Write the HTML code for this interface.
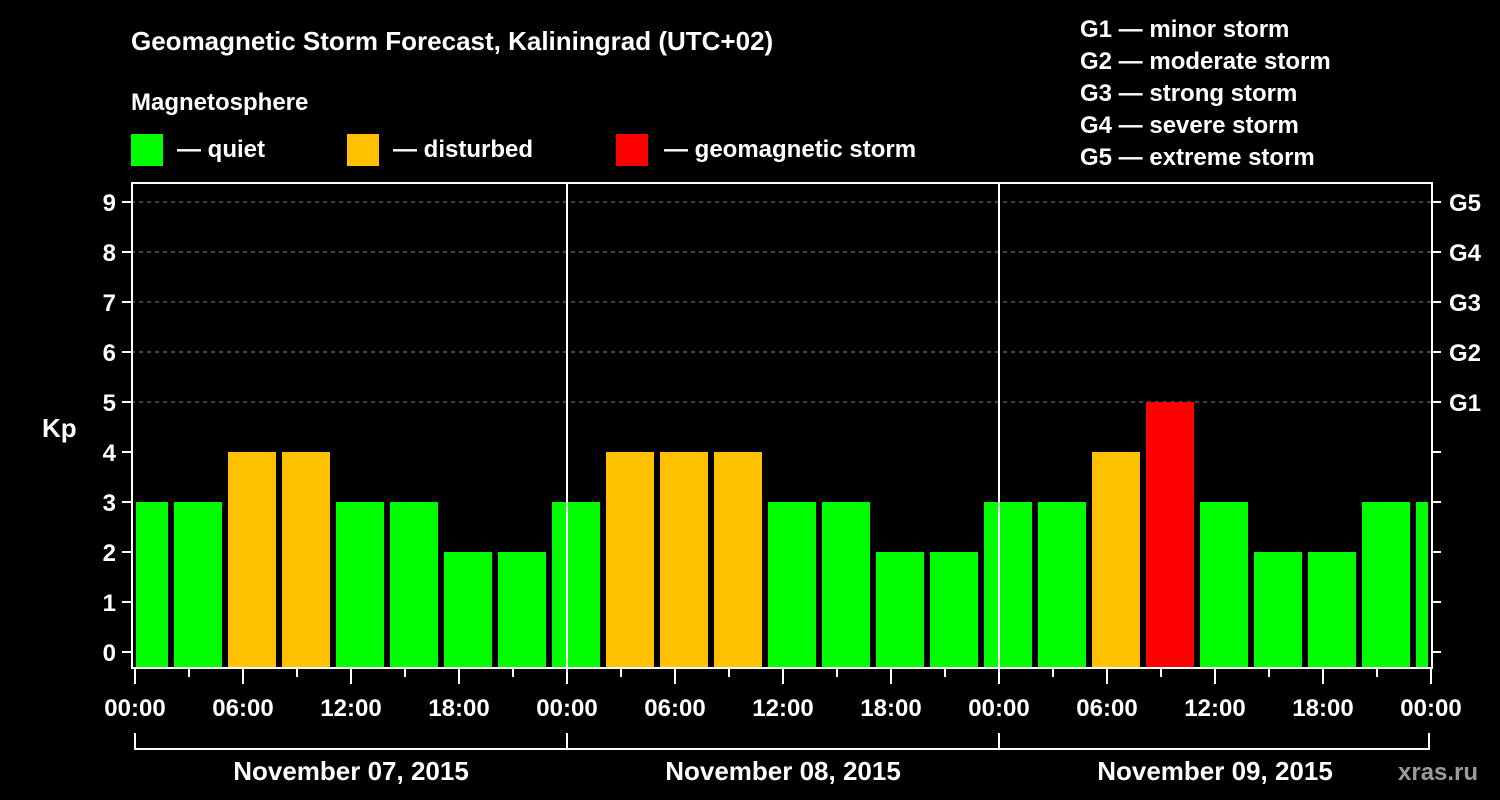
<!DOCTYPE html>
<html><head><meta charset="utf-8"><style>
body{margin:0;background:#000;}
svg{display:block;font-family:"Liberation Sans",sans-serif;font-weight:bold;}
</style></head><body>
<svg id="c" width="1500" height="800" viewBox="0 0 1500 800">
<rect width="1500" height="800" fill="#000"/>
<text x="131" y="50" fill="#fff" font-size="26">Geomagnetic Storm Forecast, Kaliningrad (UTC+02)</text>
<text x="131" y="110" fill="#fff" font-size="24">Magnetosphere</text>
<g><rect x="131" y="134" width="32" height="32" fill="#00ff00"/><text x="177" y="157" fill="#fff" font-size="24">— quiet</text></g>
<g><rect x="347" y="134" width="32" height="32" fill="#ffc000"/><text x="393" y="157" fill="#fff" font-size="24">— disturbed</text></g>
<g><rect x="616" y="134" width="32" height="32" fill="#ff0000"/><text x="664" y="157" fill="#fff" font-size="24">— geomagnetic storm</text></g>
<g fill="#fff" font-size="24">
<text x="1080" y="37">G1 — minor storm</text>
<text x="1080" y="69">G2 — moderate storm</text>
<text x="1080" y="101">G3 — strong storm</text>
<text x="1080" y="133">G4 — severe storm</text>
<text x="1080" y="165">G5 — extreme storm</text>
</g>
<text x="42" y="437" fill="#fff" font-size="26">Kp</text>
<text x="1398" y="780" fill="#9a9a9a" font-size="24">xras.ru</text>
<g id="grid"></g><g id="bars"></g><g id="axes"></g>
</svg>
<script>
const values=[3,3,4,4,3,3,2,2,3,4,4,4,3,3,2,2,3,3,4,5,3,2,2,3,3];
const dayLabels=["November 07, 2015","November 08, 2015","November 09, 2015"];
const hourLabels=["00:00","06:00","12:00","18:00"];
const gLabels=["G1","G2","G3","G4","G5"];
const NS="http://www.w3.org/2000/svg";
const X0=135,DAY=432,L=131,R=1432,TOP=183,BOT=668;
const xh=h=>X0+h*DAY/24;
const y=v=>652-v*50;
function mk(t,a,p){const e=document.createElementNS(NS,t);for(const k in a)e.setAttribute(k,a[k]);p.appendChild(e);return e;}
const grid=document.getElementById('grid'),bars=document.getElementById('bars'),axes=document.getElementById('axes');
// gridlines
for(let k=5;k<=9;k++){const l=mk('line',{x1:L,x2:R,y1:y(k),y2:y(k),stroke:'#888','stroke-dasharray':'4,4','stroke-width':1},grid);

}
// bars: first slot covers -1..2 h
values.forEach((v,i)=>{
 let s=-1+i*3,e=s+3;let x1=xh(s)+3,x2=xh(e)-3;
 if(s<0)x1=L+5; if(e>72)x2=R-4;
 const c=v>=5?'#ff0000':(v>=4?'#ffc000':'#00ff00');
 const r=mk('rect',{x:x1,y:y(v),width:x2-x1,height:BOT-y(v),fill:c},bars);
 
 
});
// frame
const f=mk('rect',{x:L+1,y:TOP,width:R-L-1,height:BOT-TOP,fill:'none',stroke:'#fff','stroke-width':2},axes);


for(let d=1;d<3;d++){const l=mk('line',{x1:xh(24*d),x2:xh(24*d),y1:TOP,y2:BOT,stroke:'#fff','stroke-width':2},axes);

}
for(let k=0;k<=9;k++){
 mk('line',{x1:122,x2:L,y1:y(k),y2:y(k),stroke:'#fff','stroke-width':2},axes);
 mk('line',{x1:R,x2:R+9,y1:y(k),y2:y(k),stroke:'#fff','stroke-width':2},axes);
 const t=mk('text',{x:116,y:y(k)+9,fill:'#fff','font-size':24,'text-anchor':'end'},axes);t.textContent=k;
 
 
 if(k>=5){const g=mk('text',{x:1449,y:y(k)+9,fill:'#fff','font-size':24},axes);g.textContent=gLabels[k-5];
 
 }
}
for(let h=0;h<=72;h+=3){const maj=h%6==0;
 mk('line',{x1:xh(h),x2:xh(h),y1:BOT,y2:maj?684:677,stroke:'#fff','stroke-width':2},axes);
 if(maj){const t=mk('text',{x:xh(h),y:716,fill:'#fff','font-size':24,'text-anchor':'middle'},axes);t.textContent=hourLabels[(h/6)%4];
 
 }
}
mk('line',{x1:X0,x2:xh(72)-2,y1:749,y2:749,stroke:'#fff','stroke-width':2},axes);
for(let d=0;d<=3;d++)mk('line',{x1:xh(24*d)-(d==3?2:0),x2:xh(24*d)-(d==3?2:0),y1:733,y2:750,stroke:'#fff','stroke-width':2},axes);
dayLabels.forEach((s,d)=>{const t=mk('text',{x:xh(24*d+12),y:780,fill:'#fff','font-size':26,'text-anchor':'middle'},axes);t.textContent=s;
 
 });
</script>
</body></html>
